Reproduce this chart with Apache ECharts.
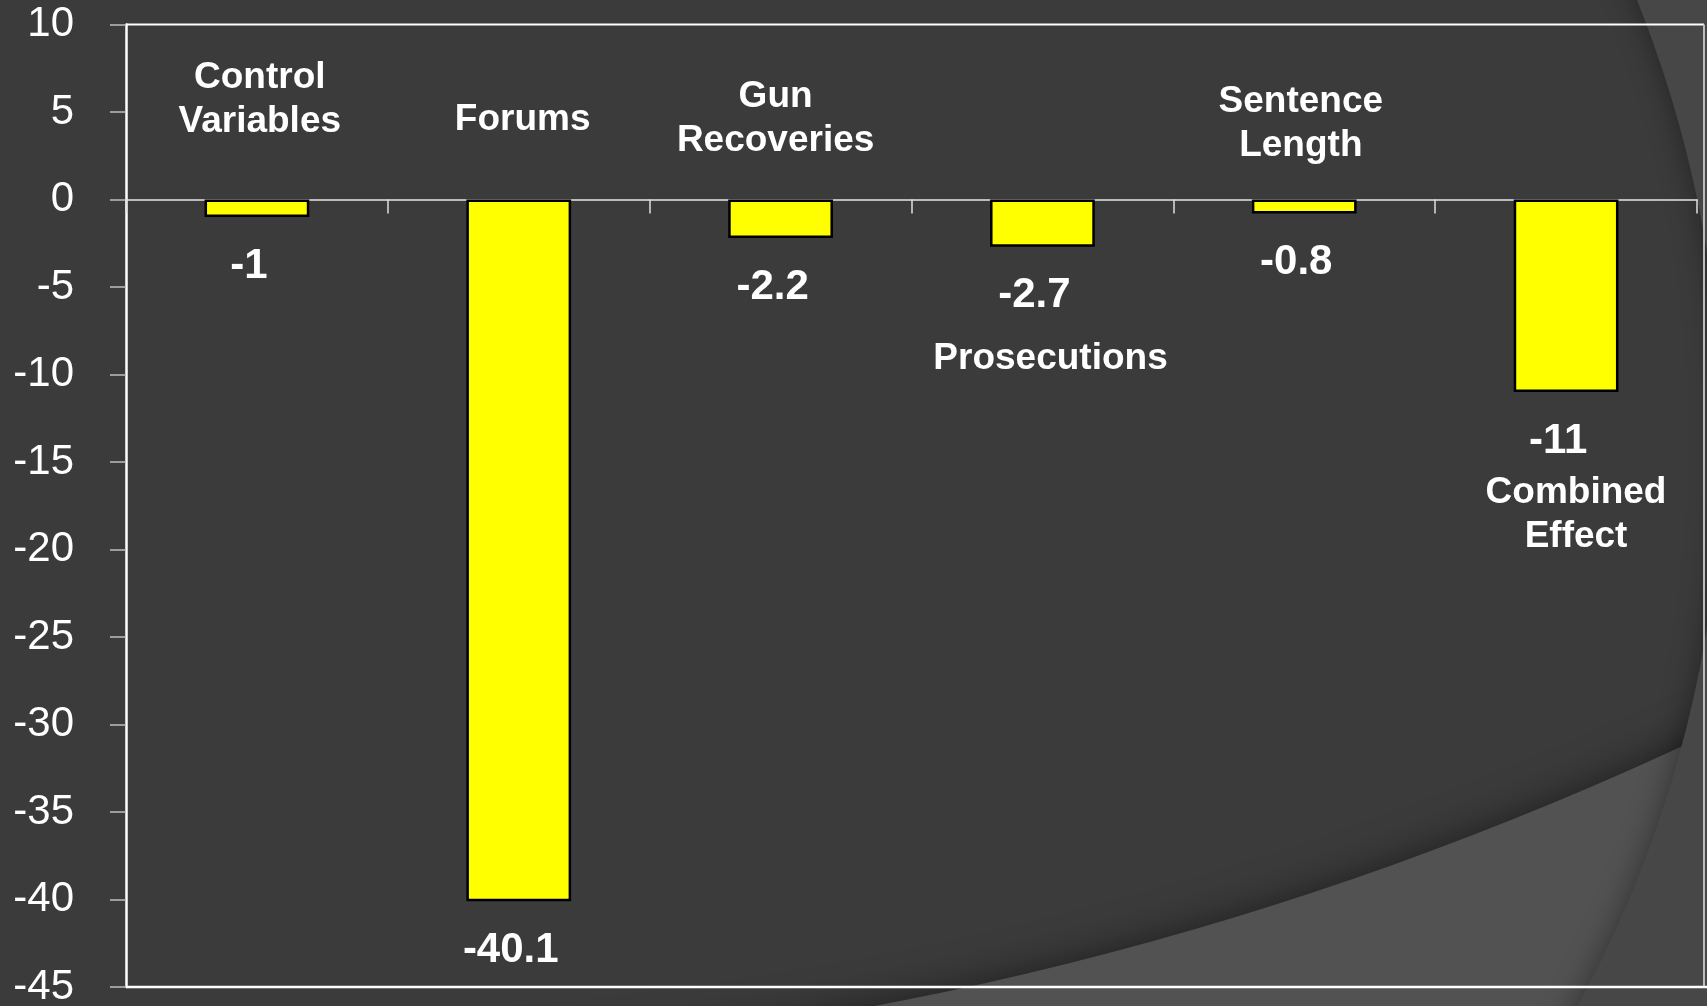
<!DOCTYPE html>
<html>
<head>
<meta charset="utf-8">
<title>Effect on homicides</title>
<script src="https://cdn.jsdelivr.net/npm/echarts@6/dist/echarts.min.js"></script>
<style>
  html, body { margin: 0; padding: 0; background: #3b3b3b; }
  #chart { width: 1707px; height: 1006px; }
</style>
</head>
<body>
<div id="chart"></div>
<script>
// Category names, and the caption lines drawn for each
const categories = ['Control Variables', 'Forums', 'Gun Recoveries', 'Prosecutions', 'Sentence Length', 'Combined Effect'];
const captionLines = ['Control\nVariables', 'Forums', 'Gun\nRecoveries', 'Prosecutions', 'Sentence\nLength', 'Combined\nEffect'];
// Bar values
const values = [-1, -40.1, -2.2, -2.7, -0.8, -11];
// Value axis range and step
const axisMin = -45;
const axisMax = 10;
const axisStep = 5;

// Caption anchors: vertical spot in value units, sideways shift in category widths
const captionAnchor = [5.7, 4.58, 4.6, -9.1, 4.35, -18.02];
const captionShift = [0.011, 0.015, -0.019, 0.031, -0.013, 0.038];

const FONT = '"Liberation Sans", Arial, Helvetica, sans-serif';

const chart = echarts.init(document.getElementById('chart'), null, { renderer: 'canvas' });

const option = {
  backgroundColor: '#3b3b3b',
  animation: false,
  grid: {
    left: 126,
    right: 10,
    top: 24.5,
    bottom: 19,
    containLabel: false,
    outerBoundsMode: 'none'
  },
  graphic: [
    // lighter band across the lower right
    {
      type: 'ring',
      z: -20,
      silent: true,
      shape: { cx: 228, cy: -2390, r0: 3457, r: 5600 },
      style: { fill: '#525252', shadowBlur: 40, shadowColor: 'rgba(0,0,0,0.5)' }
    },
    // sweeping arc along the right edge
    {
      type: 'ring',
      z: -19,
      silent: true,
      shape: { cx: 542, cy: 440, r0: 1180, r: 4200 },
      style: { fill: '#474747', shadowBlur: 30, shadowColor: 'rgba(0,0,0,0.4)' }
    },
    // plot frame: top, right and bottom edges
    {
      type: 'line', z: 10, silent: true,
      shape: { x1: 126, y1: 24.5, x2: 1704, y2: 24.5 },
      style: { stroke: '#ffffff', lineWidth: 2 }
    },
    {
      type: 'line', z: 10, silent: true,
      shape: { x1: 1704, y1: 24.5, x2: 1704, y2: 987 },
      style: { stroke: '#bdbdbd', lineWidth: 2 }
    },
    {
      type: 'line', z: 10, silent: true,
      shape: { x1: 126, y1: 987, x2: 1707, y2: 987 },
      style: { stroke: '#ffffff', lineWidth: 2.5 }
    }
  ],
  xAxis: [
    {
      type: 'category',
      data: categories,
      boundaryGap: true,
      axisLine: { show: true, onZero: true, lineStyle: { color: '#e6e6e6', width: 1.5 } },
      axisTick: { show: true, inside: false, length: 14, alignWithLabel: false, lineStyle: { color: '#e0e0e0', width: 1.5 } },
      axisLabel: { show: false },
      splitLine: { show: false }
    },
    {
      // companion axis in category-width units, used to place the captions
      type: 'value',
      min: 0,
      max: categories.length,
      show: false
    }
  ],
  yAxis: {
    type: 'value',
    min: axisMin,
    max: axisMax,
    interval: axisStep,
    axisLine: { show: true, lineStyle: { color: '#ffffff', width: 2.5 } },
    axisTick: { show: true, inside: false, length: 16, lineStyle: { color: '#bfbfbf', width: 1.5 } },
    axisLabel: {
      show: true,
      margin: 52,
      color: '#ffffff',
      fontFamily: FONT,
      fontSize: 42,
      fontWeight: 'normal'
    },
    splitLine: { show: false }
  },
  series: [
    {
      type: 'bar',
      data: values,
      barWidth: '40%',
      itemStyle: { color: '#ffff00', borderColor: '#000000', borderWidth: 2.5 },
      label: {
        show: true,
        position: 'bottom',
        distance: 28,
        offset: [-8, 0],
        formatter: '{c}',
        color: '#ffffff',
        fontFamily: FONT,
        fontSize: 42,
        fontWeight: 'bold'
      },
      z: 3
    },
    {
      type: 'scatter',
      xAxisIndex: 1,
      data: categories.map((c, i) => [i + 0.5 + captionShift[i], captionAnchor[i]]),
      symbol: 'circle',
      symbolSize: 2,
      itemStyle: { color: 'rgba(0,0,0,0)', opacity: 1 },
      silent: true,
      label: {
        show: true,
        position: 'inside',
        formatter: (p) => captionLines[p.dataIndex],
        color: '#ffffff',
        opacity: 1,
        fontFamily: FONT,
        fontSize: 37,
        fontWeight: 'bold',
        lineHeight: 44,
        align: 'center',
        verticalAlign: 'middle'
      },
      labelLayout: { hideOverlap: false },
      z: 4
    }
  ]
};

chart.setOption(option);
</script>
</body>
</html>
